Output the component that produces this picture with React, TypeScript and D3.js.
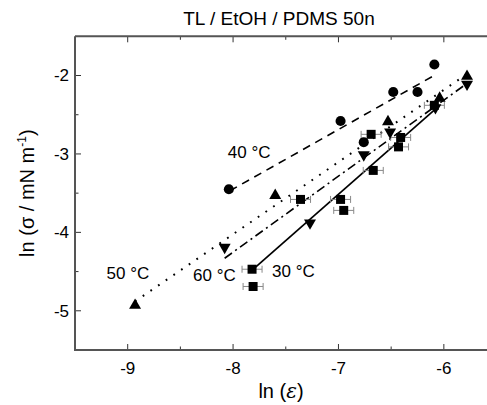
import React from 'react';
import * as d3 from 'd3';

// ---- data ----
const xTicks = [-9, -8, -7, -6];
const xMinor = [-8.5, -7.5, -6.5];
const yTicks = [-5, -4, -3, -2];
const yMinor = [-4.5, -3.5, -2.5];

// 30 °C (squares, with x error bars)
const t30x = [-7.82, -7.81, -7.36, -6.98, -6.95, -6.67, -6.69, -6.41, -6.43, -6.09];
const t30y = [-4.47, -4.69, -3.58, -3.58, -3.72, -3.21, -2.75, -2.79, -2.91, -2.38];
const t30err = [0.095, 0.095, 0.095, 0.095, 0.095, 0.095, 0.095, 0.095, 0.095, 0.095];
// 40 °C (circles)
const t40x = [-8.04, -6.98, -6.76, -6.48, -6.25, -6.09];
const t40y = [-3.45, -2.58, -2.85, -2.21, -2.21, -1.86];
// 50 °C (up triangles)
const t50x = [-8.93, -7.6, -6.53, -6.04, -5.78];
const t50y = [-4.93, -3.53, -2.59, -2.29, -2.01];
// 60 °C (down triangles)
const t60x = [-8.08, -7.27, -6.76, -6.51, -6.08, -5.78];
const t60y = [-4.19, -3.88, -3.01, -2.72, -2.41, -2.11];

// fit lines [x1, y1, x2, y2]
const fit30 = [-7.8, -4.46, -6.04, -2.38];
const fit40 = [-8.03, -3.47, -6.08, -1.99];
const fit50 = [-8.93, -4.88, -5.78, -1.98];
const fit60 = [-8.08, -4.33, -5.8, -2.12];

const labels = [
  { text: '40 °C', x: -8.05, y: -3.05 },
  { text: '50 °C', x: -9.2, y: -4.6 },
  { text: '60 °C', x: -8.38, y: -4.62 },
  { text: '30 °C', x: -7.63, y: -4.57 },
];

const FONT = '"Liberation Sans", Arial, sans-serif';

export default function App() {
  const x = d3.scaleLinear().domain([-9.5, -5.6]).range([75, 486]);
  const y = d3.scaleLinear().domain([-5.5, -1.5]).range([350, 36.3]);
  const L = x.range()[0], R = 487, T = y.range()[1], B = y.range()[0];

  const sq = d3.symbol().type(d3.symbolSquare).size(81)() as string;
  const circ = d3.symbol().type(d3.symbolCircle).size(80)() as string;
  const tri = d3.symbol().type(d3.symbolTriangle).size(62)() as string;

  const fitLine = (f: number[], dash: string | undefined, w = 1.6) => (
    <line x1={x(f[0])} y1={y(f[1])} x2={x(f[2])} y2={y(f[3])} stroke="#000" strokeWidth={w}
      strokeDasharray={dash} strokeLinecap="butt" />
  );

  return (
    <svg width={487} height={405} style={{ position: 'absolute', left: 0, top: 0, background: '#fff' }}
      fontFamily={FONT}>
      <rect width={487} height={405} fill="#fff" />
      <text x={279} y={25} textAnchor="middle" fontSize={19}>TL / EtOH / PDMS 50n</text>

      {/* fit lines */}
      {fitLine(fit40, '8,6')}
      {fitLine(fit50, '1.8,7.5', 2)}
      {fitLine(fit60, '9,4,2,4')}
      {fitLine(fit30, undefined, 1.7)}

      {/* error bars */}
      {t30x.map((v, i) => {
        const yy = y(t30y[i]);
        const a = x(v - t30err[i]), b = x(v + t30err[i]);
        return (
          <g key={'e' + i} stroke="#888" strokeWidth={1}>
            <line x1={a} x2={b} y1={yy} y2={yy} />
            <line x1={a} x2={a} y1={yy - 3.5} y2={yy + 3.5} />
            <line x1={b} x2={b} y1={yy - 3.5} y2={yy + 3.5} />
          </g>
        );
      })}

      {/* markers */}
      {t40x.map((v, i) => <path key={'c' + i} d={circ} transform={`translate(${x(v)},${y(t40y[i])})`} fill="#000" />)}
      {t50x.map((v, i) => <path key={'u' + i} d={tri} transform={`translate(${x(v)},${y(t50y[i])})`} fill="#000" />)}
      {t60x.map((v, i) => <path key={'d' + i} d={tri} transform={`translate(${x(v)},${y(t60y[i])}) rotate(180)`} fill="#000" />)}
      {t30x.map((v, i) => <path key={'s' + i} d={sq} transform={`translate(${x(v)},${y(t30y[i])})`} fill="#000" />)}

      {/* labels */}
      {labels.map((l, i) => (
        <text key={'l' + i} x={x(l.x)} y={y(l.y)} fontSize={17}>{l.text}</text>
      ))}

      {/* axes */}
      <g stroke="#333" strokeWidth={1}>
        {xTicks.map(t => (
          <g key={'xt' + t}>
            <line x1={x(t)} x2={x(t)} y1={B} y2={B - 6} />
            <line x1={x(t)} x2={x(t)} y1={T} y2={T + 6} />
          </g>
        ))}
        {xMinor.map(t => (
          <g key={'xm' + t}>
            <line x1={x(t)} x2={x(t)} y1={B} y2={B - 3.5} />
            <line x1={x(t)} x2={x(t)} y1={T} y2={T + 3.5} />
          </g>
        ))}
        {yTicks.map(t => <line key={'yt' + t} x1={L} x2={L + 6} y1={y(t)} y2={y(t)} />)}
        {yMinor.map(t => <line key={'ym' + t} x1={L} x2={L + 3.5} y1={y(t)} y2={y(t)} />)}
      </g>
      <g stroke="#555" strokeWidth={2} fill="none">
        <line x1={L} x2={R} y1={B} y2={B} />
        <line x1={L} x2={R} y1={T} y2={T} />
        <line x1={L} x2={L} y1={T} y2={B + 1} />
      </g>

      {xTicks.map(t => (
        <text key={'xl' + t} x={x(t)} y={B + 24} textAnchor="middle" fontSize={17}>{String(t)}</text>
      ))}
      {yTicks.map(t => (
        <text key={'yl' + t} x={L - 6} y={y(t)} dy="0.35em" textAnchor="end" fontSize={17}>{String(t)}</text>
      ))}

      <text x={(L + R) / 2} y={398} textAnchor="middle" fontSize={20}>
        ln (<tspan fontStyle="italic" fontFamily='"DejaVu Serif", serif'>ε</tspan>)
      </text>
      <text transform={`translate(34,${(T + B) / 2}) rotate(-90)`} textAnchor="middle" fontSize={20}>
        ln (σ / mN m<tspan dy={-8} fontSize={12}>-1</tspan><tspan dy={8}>)</tspan>
      </text>
    </svg>
  );
}
